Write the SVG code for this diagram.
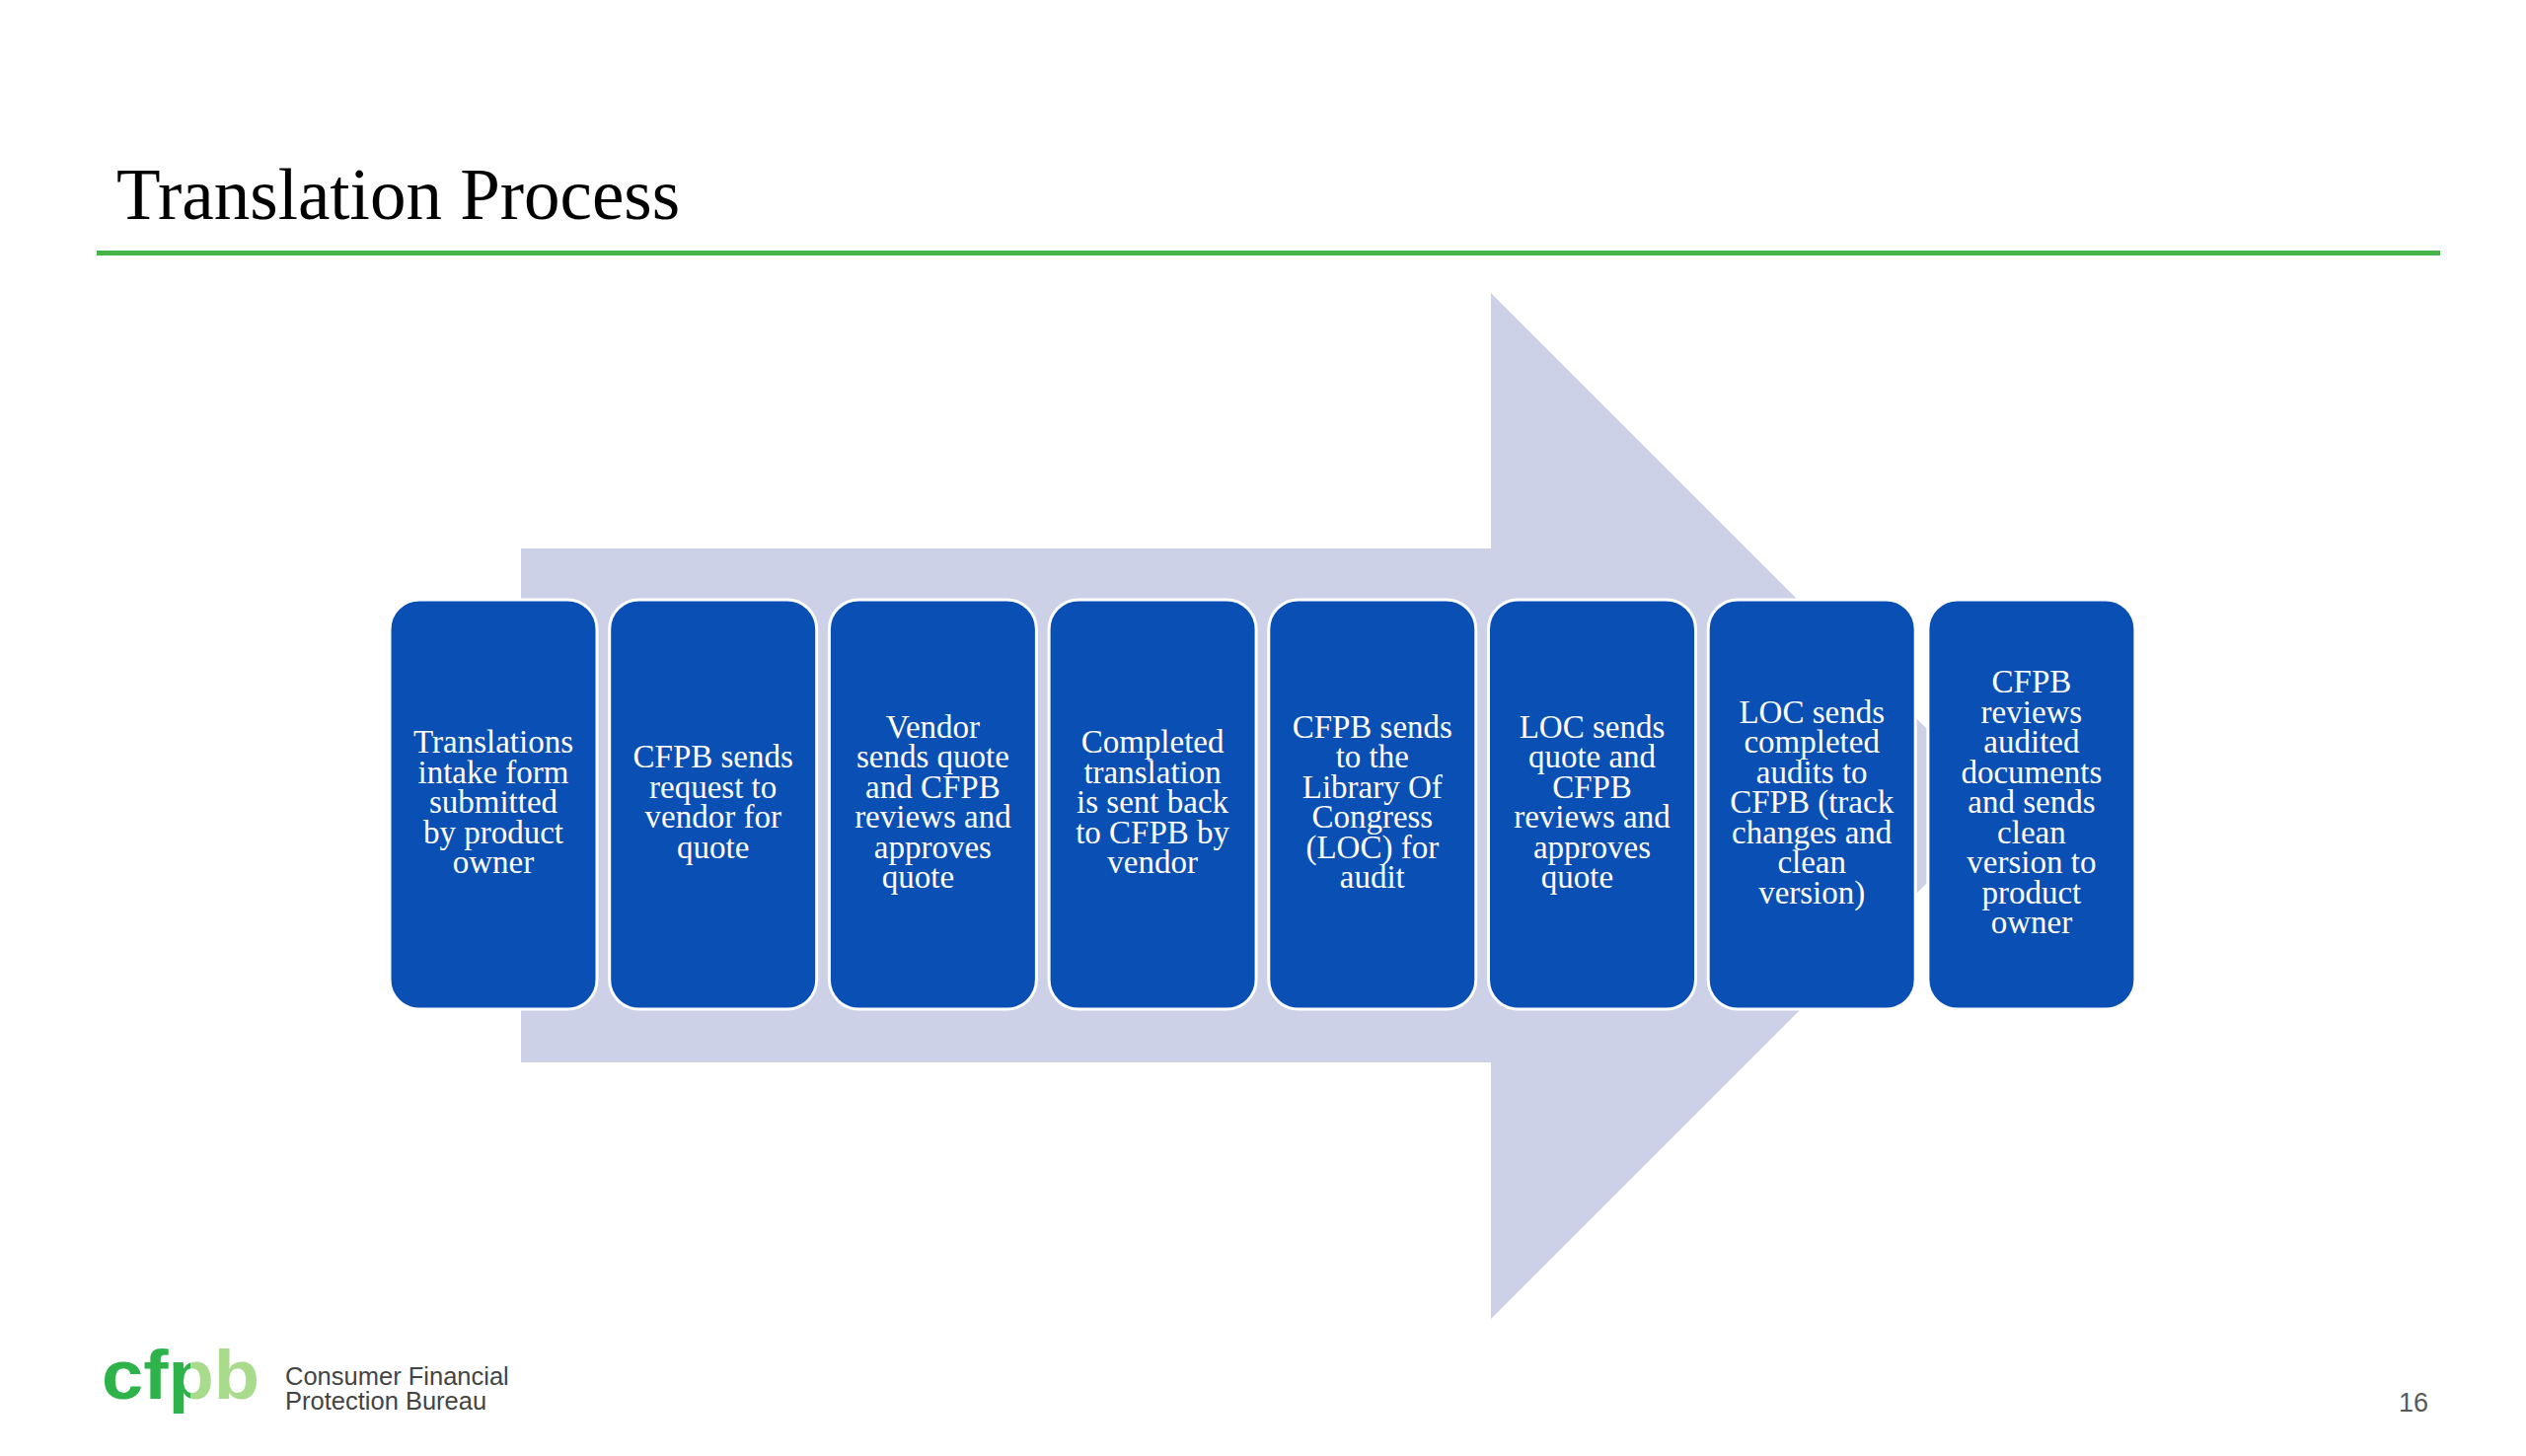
<svg xmlns="http://www.w3.org/2000/svg" width="2560" height="1476" viewBox="0 0 2560 1476">
  <defs>
    <style>
      .box { fill: #0A50B4; stroke: #FFFFFF; stroke-width: 3; }
      .lbl { font-family: "Liberation Serif", "Times New Roman", serif; font-size: 33px; fill: #FFFFFF; text-anchor: middle; }
      .title { font-family: "Liberation Serif", "Times New Roman", serif; font-size: 73px; fill: #000000; }
      .org { font-family: "Liberation Sans", Arial, sans-serif; font-size: 25.5px; fill: #444444; }
      .pg { font-family: "Liberation Sans", Arial, sans-serif; font-size: 27px; fill: #595959; text-anchor: end; }
    </style>
    <linearGradient id="logoGrad" gradientUnits="userSpaceOnUse" x1="103" y1="0" x2="263" y2="0">
      <stop offset="0" stop-color="#2DB34A"/>
      <stop offset="0.56" stop-color="#2DB34A"/>
      <stop offset="0.56" stop-color="#A9DB8C"/>
      <stop offset="1" stop-color="#A9DB8C"/>
    </linearGradient>
  </defs>

  <rect width="2560" height="1476" fill="#FFFFFF"/>

  <g id="header">
    <text class="title" x="118" y="222">Translation Process</text>
    <rect x="98" y="254" width="2375" height="5" fill="#45B549"/>
  </g>

  <g id="connectors">
    <polygon points="528,556 1511,556 1511,297 2031,817 1511,1337 1511,1077 528,1077" fill="#CCD1E7"/>
  </g>

  <g id="node1">
    <rect class="box" x="395" y="608" width="210" height="415" rx="30" ry="30"/>
    <text class="lbl"><tspan x="500" y="763">Translations</tspan><tspan x="500" y="793.5">intake form</tspan><tspan x="500" y="824">submitted</tspan><tspan x="500" y="854.5">by product</tspan><tspan x="500" y="885">owner</tspan></text>
  </g>
  <g id="node2">
    <rect class="box" x="617.7" y="608" width="210" height="415" rx="30" ry="30"/>
    <text class="lbl"><tspan x="722.7" y="778.25">CFPB sends</tspan><tspan x="722.7" y="808.75">request to</tspan><tspan x="722.7" y="839.25">vendor for</tspan><tspan x="722.7" y="869.75">quote</tspan></text>
  </g>
  <g id="node3">
    <rect class="box" x="840.4" y="608" width="210" height="415" rx="30" ry="30"/>
    <text class="lbl"><tspan x="945.4" y="747.75">Vendor</tspan><tspan x="945.4" y="778.25">sends quote</tspan><tspan x="945.4" y="808.75">and CFPB</tspan><tspan x="945.4" y="839.25">reviews and</tspan><tspan x="945.4" y="869.75">approves</tspan><tspan x="930.4" y="900.25">quote</tspan></text>
  </g>
  <g id="node4">
    <rect class="box" x="1063.1" y="608" width="210" height="415" rx="30" ry="30"/>
    <text class="lbl"><tspan x="1168.1" y="763">Completed</tspan><tspan x="1168.1" y="793.5">translation</tspan><tspan x="1168.1" y="824">is sent back</tspan><tspan x="1168.1" y="854.5">to CFPB by</tspan><tspan x="1168.1" y="885">vendor</tspan></text>
  </g>
  <g id="node5">
    <rect class="box" x="1285.8" y="608" width="210" height="415" rx="30" ry="30"/>
    <text class="lbl"><tspan x="1390.8" y="747.75">CFPB sends</tspan><tspan x="1390.8" y="778.25">to the</tspan><tspan x="1390.8" y="808.75">Library Of</tspan><tspan x="1390.8" y="839.25">Congress</tspan><tspan x="1390.8" y="869.75">(LOC) for</tspan><tspan x="1390.8" y="900.25">audit</tspan></text>
  </g>
  <g id="node6">
    <rect class="box" x="1508.5" y="608" width="210" height="415" rx="30" ry="30"/>
    <text class="lbl"><tspan x="1613.5" y="747.75">LOC sends</tspan><tspan x="1613.5" y="778.25">quote and</tspan><tspan x="1613.5" y="808.75">CFPB</tspan><tspan x="1613.5" y="839.25">reviews and</tspan><tspan x="1613.5" y="869.75">approves</tspan><tspan x="1598.5" y="900.25">quote</tspan></text>
  </g>
  <g id="node7">
    <rect class="box" x="1731.2" y="608" width="210" height="415" rx="30" ry="30"/>
    <text class="lbl"><tspan x="1836.2" y="732.5">LOC sends</tspan><tspan x="1836.2" y="763">completed</tspan><tspan x="1836.2" y="793.5">audits to</tspan><tspan x="1836.2" y="824">CFPB (track</tspan><tspan x="1836.2" y="854.5">changes and</tspan><tspan x="1836.2" y="885">clean</tspan><tspan x="1836.2" y="915.5">version)</tspan></text>
  </g>
  <g id="node8">
    <rect class="box" x="1953.9" y="608" width="210" height="415" rx="30" ry="30"/>
    <text class="lbl"><tspan x="2058.9" y="702">CFPB</tspan><tspan x="2058.9" y="732.5">reviews</tspan><tspan x="2058.9" y="763">audited</tspan><tspan x="2058.9" y="793.5">documents</tspan><tspan x="2058.9" y="824">and sends</tspan><tspan x="2058.9" y="854.5">clean</tspan><tspan x="2058.9" y="885">version to</tspan><tspan x="2058.9" y="915.5">product</tspan><tspan x="2058.9" y="946">owner</tspan></text>
  </g>

  <g id="footer">
    <text x="103" y="1418" font-family="'Liberation Sans', Arial, sans-serif" font-weight="bold" font-size="70" fill="url(#logoGrad)" textLength="160" lengthAdjust="spacingAndGlyphs">cfpb</text>
    <text class="org"><tspan x="289" y="1404">Consumer Financial</tspan><tspan x="289" y="1429">Protection Bureau</tspan></text>
    <text class="pg" x="2461" y="1431">16</text>
  </g>
</svg>
